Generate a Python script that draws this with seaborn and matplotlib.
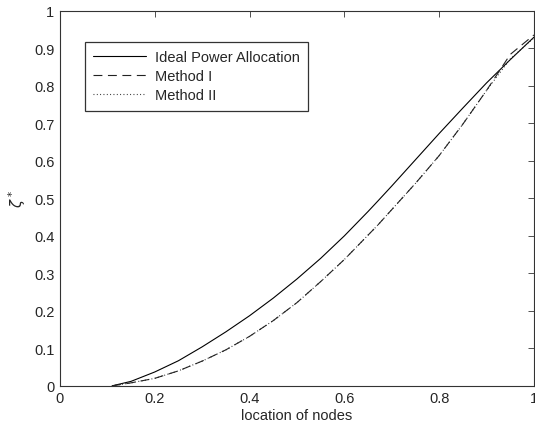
import matplotlib
matplotlib.use("Agg")
import matplotlib.pyplot as plt
import seaborn as sns
import pandas as pd

# data
x_loc = [0.11, 0.15, 0.2, 0.25, 0.3, 0.35, 0.4, 0.45, 0.5, 0.55, 0.6, 0.65, 0.67, 0.7, 0.75, 0.8, 0.85, 0.9, 0.95, 1.0]
ideal = [0.0, 0.012, 0.037, 0.067, 0.104, 0.144, 0.187, 0.234, 0.285, 0.340, 0.400, 0.465, 0.492, 0.533, 0.603, 0.673, 0.741, 0.808, 0.870, 0.930]
method1 = [0.0, 0.008, 0.020, 0.040, 0.066, 0.096, 0.132, 0.174, 0.222, 0.278, 0.337, 0.402, 0.428, 0.470, 0.540, 0.614, 0.698, 0.788, 0.884, 0.936]
method2 = [0.0, 0.008, 0.020, 0.040, 0.066, 0.096, 0.132, 0.174, 0.222, 0.278, 0.337, 0.402, 0.428, 0.470, 0.540, 0.614, 0.698, 0.788, 0.872, 0.928]
series_names = ["Ideal Power Allocation", "Method I", "Method II"]
x_ticks = [0, 0.2, 0.4, 0.6, 0.8, 1]
y_ticks = [0, 0.1, 0.2, 0.3, 0.4, 0.5, 0.6, 0.7, 0.8, 0.9, 1]

sns.set_style("white")
plt.rcParams['font.family'] = ['Liberation Sans', 'DejaVu Sans']
plt.rcParams['mathtext.fontset'] = 'dejavusans'

fig = plt.figure(figsize=(5.35, 4.27), dpi=100)
ax = fig.add_axes([0.112, 0.094, 0.886, 0.878])

df = pd.DataFrame({"x": x_loc, "ideal": ideal, "m1": method1, "m2": method2})
sns.lineplot(data=df, x="x", y="ideal", ax=ax, color="black", lw=0.8, label=series_names[0])
sns.lineplot(data=df, x="x", y="m1", ax=ax, color="#222222", lw=0.8, label=series_names[1])
ax.lines[-1].set_dashes([8, 5])
sns.lineplot(data=df, x="x", y="m2", ax=ax, color="#222222", lw=0.8, label=series_names[2])
ax.lines[-1].set_dashes([0.8, 2.2])

ax.set_xlim(0, 1)
ax.set_ylim(0, 1)
ax.set_xticks(x_ticks)
ax.set_xticklabels(["0", "0.2", "0.4", "0.6", "0.8", "1"])
ax.set_yticks(y_ticks)
ax.set_yticklabels(["0", "0.1", "0.2", "0.3", "0.4", "0.5", "0.6", "0.7", "0.8", "0.9", "1"])
ax.tick_params(direction="in", length=4, width=0.6, labelsize=10.5, color="#333333",
               top=True, right=True, pad=4)
for s in ax.spines.values():
    s.set_visible(True)
    s.set_linewidth(0.8)
    s.set_color("#333333")

ax.set_xlabel("location of nodes", fontsize=10.5, labelpad=2)
ax.set_ylabel(r"$\zeta^*$", fontsize=10.5, labelpad=4)

leg = ax.legend(loc="upper left", bbox_to_anchor=(0.052, 0.918), frameon=True, fancybox=False,
                fontsize=10.5, handlelength=3.6, handletextpad=0.6, borderpad=0.6,
                labelspacing=0.32, borderaxespad=0)
leg.get_frame().set_edgecolor("black")
leg.get_frame().set_linewidth(0.9)

fig.savefig("out.png", dpi=100)
